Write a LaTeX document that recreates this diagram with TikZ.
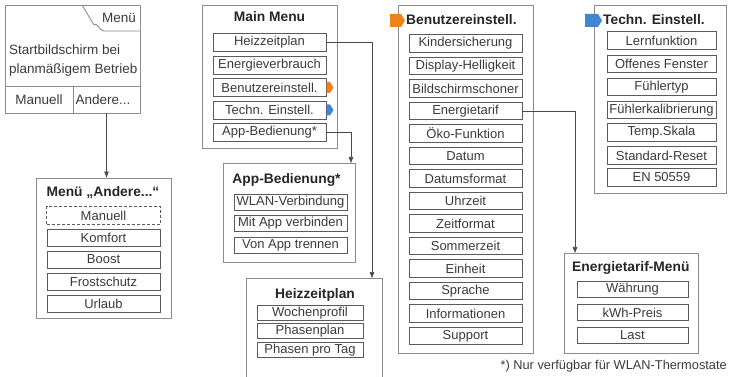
\documentclass[tikz,border=0pt]{standalone}
\usepackage{fontspec}
\setmainfont{Liberation Sans}
\usetikzlibrary{arrows.meta}
\definecolor{framec}{HTML}{8C8C8C}
\definecolor{itemc}{HTML}{5A5A5A}
\definecolor{txtc}{HTML}{3A3A3A}
\definecolor{linec}{HTML}{4A4A4A}
\definecolor{orangec}{HTML}{F0821E}
\definecolor{bluec}{HTML}{3F86D0}
\begin{document}
\begin{tikzpicture}[x=1pt,y=-1pt,
 frame/.style={draw=framec, line width=0.9pt, inner sep=0pt, rectangle},
 itembox/.style 2 args={draw=itemc, line width=0.8pt, inner sep=0pt, minimum width=#1, minimum height=#2, text=txtc, font=\fontsize{13}{15}\selectfont},
 ttl/.style={font=\bfseries\fontsize{13.8}{15}\selectfont, text=black!85, inner sep=0pt},
 txt/.style={font=\fontsize{13.5}{16}\selectfont, text=txtc, inner sep=0pt},
 conn/.style={draw=linec, line width=0.7pt},
 arr/.style={conn, -{Triangle[length=6pt,width=4.5pt]}},
]
\useasboundingbox (0,0) rectangle (729,377);
\clip (0,0) rectangle (729,377);

% ---------- start screen ----------
\node[frame, minimum width=135pt, minimum height=108pt] (start) at (72.5,59) {};
\draw[framec, line width=0.9pt] (82,5) -- (94,25) to[out=55,in=180] (104,31) -- (140,31);
\node[txt] (menutab) at (119,18) {Menü};
\node[txt, anchor=west] (st1) at (9,50) {Startbildschirm bei};
\node[txt, anchor=west] (st2) at (9,70) {planmäßigem Betrieb};
\node[frame, minimum width=68pt, minimum height=27pt] (manc) at (39,99.5) {};
\node[frame, minimum width=67pt, minimum height=27pt] (andc) at (106.5,99.5) {};
\node[txt] (mant) at (39,100) {Manuell};
\node[txt] (andt) at (103,100) {Andere...};

% ---------- Menü Andere ----------
\node[frame, minimum width=135pt, minimum height=140pt] (abox) at (103.5,248) {};
\node[ttl] (atitle) at (103,193) {Menü „Andere...“};
\node[itembox={113pt}{17pt}, draw=none] (a1) at (103.5,215.5) {Manuell};
\draw[itemc, line width=0.7pt, densely dashed] (a1.south west) rectangle (a1.north east);
\node[itembox={113pt}{17pt}] (a2) at (103.5,237.5) {Komfort};
\node[itembox={113pt}{17pt}] (a3) at (103.5,259.5) {Boost};
\node[itembox={113pt}{17pt}] (a4) at (103.5,281.5) {Frostschutz};
\node[itembox={113pt}{17pt}] (a5) at (103.5,303.5) {Urlaub};
\draw[arr] (andc.south) -- (andc.south |- abox.north);

% ---------- Main Menu ----------
\node[frame, minimum width=135pt, minimum height=143pt] (mbox) at (269.5,76.5) {};
\node[ttl] (mtitle) at (269.5,17) {Main Menu};
\node[itembox={113pt}{18pt}] (m1) at (269.5,42.5) {Heizzeitplan};
\node[itembox={113pt}{18pt}] (m2) at (269.5,65) {Energieverbrauch};
\node[itembox={113pt}{18pt}] (m3) at (269.5,87.5) {Benutzereinstell.};
\node[itembox={113pt}{18pt}] (m4) at (269.5,110) {Techn. Einstell.};
\node[itembox={113pt}{18pt}] (m5) at (269.5,132) {App-Bedienung*};
\fill[orangec] (326.5,82) -- (330,82) -- (333.5,87.5) -- (330,93) -- (326.5,93) -- cycle;
\fill[bluec] (326.5,104.5) -- (330,104.5) -- (333.5,110) -- (330,115.5) -- (326.5,115.5) -- cycle;

% ---------- App-Bedienung ----------
\node[frame, minimum width=132pt, minimum height=99pt] (pbox) at (289,212.5) {};
\node[ttl] (ptitle) at (286.5,180) {App-Bedienung*};
\node[itembox={113pt}{16pt}] (p1) at (290.5,202.5) {WLAN-Verbindung};
\node[itembox={113pt}{16pt}] (p2) at (290.5,223) {Mit App verbinden};
\node[itembox={113pt}{16pt}] (p3) at (290.5,245) {Von App trennen};
\coordinate (pin) at (351,163);
\draw[arr] (m5.east) -| (pin);

% ---------- Heizzeitplan ----------
\node[frame, minimum width=136pt, minimum height=122pt] (hbox) at (314,339) {};
\node[ttl] (htitle) at (315,295) {Heizzeitplan};
\node[itembox={106pt}{15pt}] (h1) at (310,313) {Wochenprofil};
\node[itembox={106pt}{15pt}] (h2) at (310,331) {Phasenplan};
\node[itembox={106pt}{15pt}] (h3) at (310,350) {Phasen pro Tag};
\coordinate (hin) at (372,278);
\draw[arr] (m1.east) -| (hin);

% ---------- Benutzereinstell. ----------
\node[frame, minimum width=135pt, minimum height=348pt] (bbox) at (465.5,179) {};
\fill[orangec] (390,14) -- (401,14) -- (405,20.5) -- (401,27) -- (390,27) -- cycle;
\node[ttl, anchor=west] (btitle) at (406,20) {Benutzereinstell.};
\foreach \t [count=\i from 0] in {Kindersicherung,Display-Helligkeit,Bildschirmschoner,Energietarif,Öko-Funktion,Datum,Datumsformat,Uhrzeit,Zeitformat,Sommerzeit,Einheit,Sprache,Informationen,Support}
  \node[itembox={113pt}{17.5pt}] (b\i) at (465.5,43.5+22.5*\i) {\t};

% ---------- Energietarif-Menü ----------
\node[frame, minimum width=134pt, minimum height=100pt] (ebox) at (631,303) {};
\node[ttl, anchor=west] (etitle) at (572,268) {Energietarif-Menü};
\node[itembox={111pt}{16pt}] (e1) at (632.5,289.5) {Währung};
\node[itembox={111pt}{16pt}] (e2) at (632.5,312.5) {kWh-Preis};
\node[itembox={111pt}{16pt}] (e3) at (632.5,335) {Last};
\coordinate (ein) at (575,253);
\draw[arr] (b3.east) -| (ein);

% ---------- Techn. Einstell. ----------
\node[frame, minimum width=132pt, minimum height=188pt] (tbox) at (660,99) {};
\fill[bluec] (585,14) -- (598,14) -- (602,20.5) -- (598,27) -- (585,27) -- cycle;
\node[ttl, anchor=west] (ttitle) at (603,20) {Techn. Einstell.};
\node[itembox={109pt}{17.5pt}] (t1) at (661.5,40.5) {Lernfunktion};
\node[itembox={109pt}{17.5pt}] (t2) at (661.5,64) {Offenes Fenster};
\node[itembox={109pt}{17.5pt}] (t3) at (661.5,87) {Fühlertyp};
\node[itembox={109pt}{17.5pt}] (t4) at (661.5,110) {Fühlerkalibrierung};
\node[itembox={109pt}{17.5pt}] (t5) at (661.5,132.5) {Temp.Skala};
\node[itembox={109pt}{17.5pt}] (t6) at (661.5,155.5) {Standard-Reset};
\node[itembox={109pt}{17.5pt}] (t7) at (661.5,177.5) {EN 50559};

% ---------- footnote ----------
\node[txt, anchor=east, font=\fontsize{12.8}{14}\selectfont] (foot) at (727,366) {*) Nur verfügbar für WLAN-Thermostate};
\end{tikzpicture}
\end{document}
